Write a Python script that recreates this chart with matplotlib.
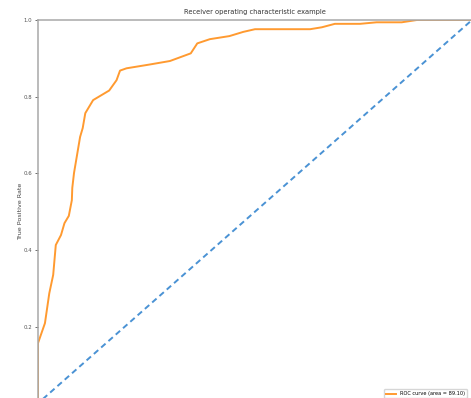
import matplotlib
matplotlib.use("Agg")
import matplotlib.pyplot as plt

# ROC curve values
fpr = [0.0, 0.0, 0.016, 0.026, 0.035, 0.041, 0.053, 0.061, 0.071, 0.078, 0.079,
       0.083, 0.097, 0.103, 0.109, 0.127, 0.164, 0.181, 0.189, 0.204, 0.258,
       0.304, 0.352, 0.367, 0.396, 0.441, 0.473, 0.500, 0.627, 0.654, 0.684,
       0.742, 0.780, 0.838, 0.873, 1.0]
tpr = [0.0, 0.157, 0.209, 0.287, 0.335, 0.413, 0.439, 0.470, 0.489, 0.530, 0.562,
       0.601, 0.695, 0.718, 0.757, 0.791, 0.816, 0.843, 0.868, 0.874, 0.884,
       0.893, 0.913, 0.939, 0.950, 0.958, 0.969, 0.976, 0.976, 0.981, 0.990,
       0.990, 0.994, 0.994, 1.0, 1.0]
chance = [0.0, 1.0]
roc_auc = 89.10
yticks = [0.2, 0.4, 0.6, 0.8, 1.0]

fig = plt.figure(figsize=(4.71, 3.98), dpi=100)
ax = fig.add_axes([38 / 471, -5.3 / 398, 434 / 471, 383.3 / 398])

ax.plot(fpr, tpr, color="#ff9a30", lw=1.4,
        label="ROC curve (area = %0.2f)" % roc_auc)
ax.plot(chance, chance, color="#4a92d4", lw=1.4, linestyle="--", dashes=(3, 2))

ax.set_xlim(0.0, 1.0)
ax.set_ylim(0.0, 1.0)
ax.set_yticks(yticks)
ax.set_yticklabels(["%.1f" % v for v in yticks])
ax.tick_params(axis="y", labelsize=3.9, length=2.5, width=0.6, colors="#555555", pad=1.5)
ax.tick_params(axis="x", bottom=False, labelbottom=False)
for s in ["left", "top"]:
    ax.spines[s].set_color("#a8a8a8")
    ax.spines[s].set_linewidth(1.1)
for s in ["right", "bottom"]:
    ax.spines[s].set_visible(False)

ax.set_ylabel("True Positive Rate", fontsize=4.6, color="#444444", labelpad=0.5)
ax.set_title("Receiver operating characteristic example", fontsize=4.8,
             color="#333333", pad=4.5)
leg = ax.legend(loc="lower right", fontsize=3.6, frameon=True, borderaxespad=1.0)
leg.get_frame().set_edgecolor("#cccccc")

fig.savefig("out.png", dpi=100)
